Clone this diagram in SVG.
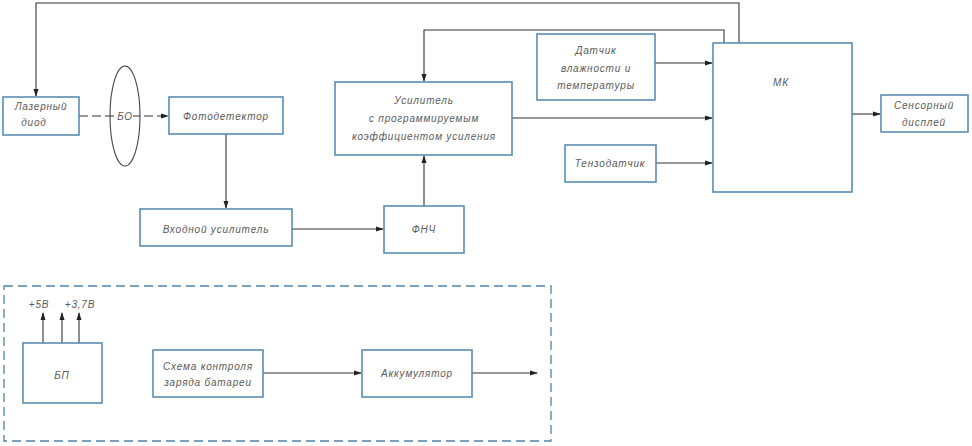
<svg xmlns="http://www.w3.org/2000/svg" width="972" height="446" viewBox="0 0 972 446">
<defs>
<marker id="ar" markerWidth="8" markerHeight="6" refX="7" refY="3" orient="auto" markerUnits="userSpaceOnUse">
<path d="M0,0.5 L8,3 L0,5.5 Z" fill="#222"/>
</marker>
<style>
.box{fill:#fff;stroke:#5a8db3;stroke-width:1.6}
.t{font-family:"Liberation Sans",Arial,sans-serif;font-style:italic;font-size:10px;fill:#5a5a5a;text-anchor:middle;letter-spacing:0.8px}
.ln{fill:none;stroke:#333;stroke-width:1.1}
.ar{marker-end:url(#ar)}
</style>
</defs>
<rect width="972" height="446" fill="#fff"/>

<g id="connectors">
<polyline class="ln ar" points="739,43 739,3 36,3 36,96"/>
<polyline class="ln ar" points="724,43 724,30 424,30 424,81"/>
<line class="ln ar" x1="79" y1="116" x2="168" y2="116" stroke-dasharray="9,4"/>
<line class="ln ar" x1="226" y1="134" x2="226" y2="208"/>
<line class="ln ar" x1="292" y1="229" x2="383" y2="229"/>
<line class="ln ar" x1="424" y1="206" x2="424" y2="156"/>
<line class="ln ar" x1="655" y1="63" x2="712" y2="63"/>
<line class="ln ar" x1="512" y1="118" x2="712" y2="118"/>
<line class="ln ar" x1="656" y1="163" x2="712" y2="163"/>
<line class="ln ar" x1="852" y1="114" x2="880" y2="114"/>
<line class="ln ar" x1="43" y1="343" x2="43" y2="313"/>
<line class="ln ar" x1="62" y1="343" x2="62" y2="313"/>
<line class="ln ar" x1="79" y1="343" x2="79" y2="313"/>
<line class="ln ar" x1="263" y1="373" x2="361" y2="373"/>
<line class="ln ar" x1="472" y1="373" x2="537" y2="373"/>
</g>

<g id="power-group">
<rect x="4" y="286" width="547" height="155" fill="none" stroke="#4f82a8" stroke-width="1.3" stroke-dasharray="9,5"/>
</g>

<g id="laser">
<rect class="box" x="3" y="97" width="76" height="38"/>
<text class="t" x="41" y="110">Лазерный</text>
<text class="t" x="34" y="126">диод</text>
</g>

<g id="bo">
<ellipse cx="125" cy="116" rx="15" ry="50" fill="none" stroke="#444" stroke-width="1.1"/>
<rect x="117" y="110" width="16" height="11" fill="#fff"/>
<text class="t" x="125" y="120">БО</text>
</g>

<g id="photodetector">
<rect class="box" x="169" y="97" width="114" height="37"/>
<text class="t" x="226" y="120">Фотодетектор</text>
</g>

<g id="input-amp">
<rect class="box" x="140" y="209" width="152" height="37"/>
<text class="t" x="216" y="233">Входной усилитель</text>
</g>

<g id="lpf">
<rect class="box" x="384" y="206" width="80" height="47"/>
<text class="t" x="424" y="233">ФНЧ</text>
</g>

<g id="pga">
<rect class="box" x="335" y="82" width="177" height="73"/>
<text class="t" x="424" y="104">Усилитель</text>
<text class="t" x="424" y="122">с программируемым</text>
<text class="t" x="424" y="140">коэффициентом усиления</text>
</g>

<g id="humidity">
<rect class="box" x="537" y="34" width="118" height="66"/>
<text class="t" x="596" y="54">Датчик</text>
<text class="t" x="596" y="72">влажности и</text>
<text class="t" x="596" y="89">температуры</text>
</g>

<g id="strain">
<rect class="box" x="565" y="145" width="91" height="37"/>
<text class="t" x="610" y="167">Тензодатчик</text>
</g>

<g id="mk">
<rect class="box" x="713" y="43" width="139" height="149"/>
<text class="t" x="781" y="86">МК</text>
</g>

<g id="display">
<rect class="box" x="881" y="95" width="87" height="37"/>
<text class="t" x="924" y="109">Сенсорный</text>
<text class="t" x="924" y="126">дисплей</text>
</g>

<g id="psu">
<rect class="box" x="23" y="343" width="79" height="60"/>
<text class="t" x="62" y="379">БП</text>
<text class="t" x="39" y="308">+5В</text>
<text class="t" x="80" y="308">+3,7В</text>
</g>

<g id="charge-ctrl">
<rect class="box" x="153" y="350" width="110" height="47"/>
<text class="t" x="208" y="370">Схема контроля</text>
<text class="t" x="208" y="386">заряда батареи</text>
</g>

<g id="battery">
<rect class="box" x="362" y="350" width="110" height="47"/>
<text class="t" x="417" y="377">Аккумулятор</text>
</g>
</svg>
